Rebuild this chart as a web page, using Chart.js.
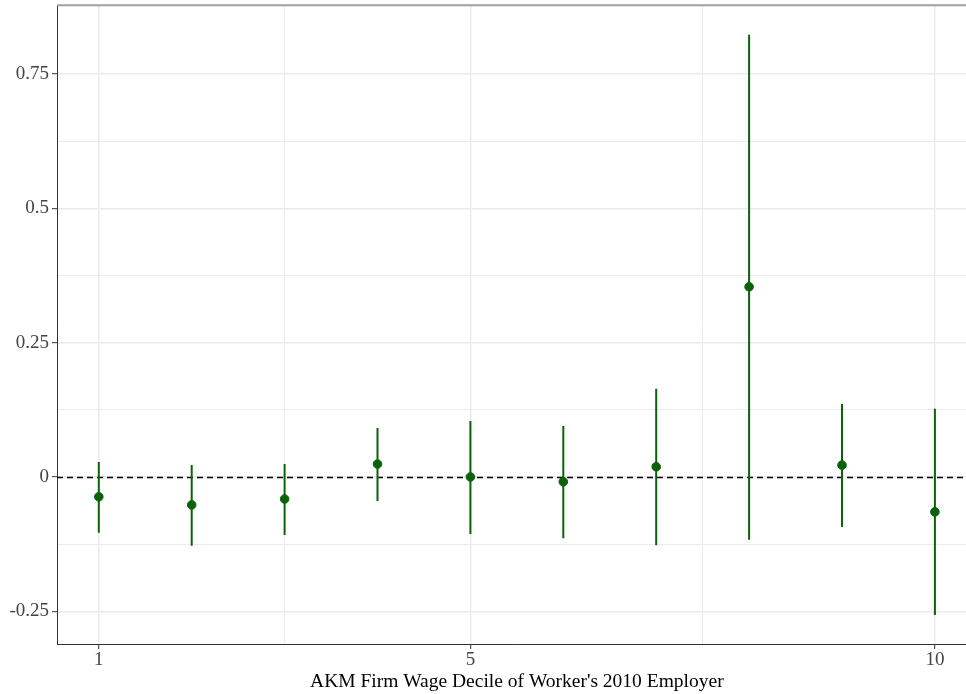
<!DOCTYPE html>
<html>
<head>
<meta charset="utf-8">
<script src="https://cdn.jsdelivr.net/npm/chart.js@4/dist/chart.umd.min.js"></script>
<style>
  html, body { margin: 0; padding: 0; background: #fff; }
  #wrap { width: 966px; height: 694px; overflow: hidden; }
</style>
</head>
<body>
<div id="wrap"><canvas id="coefChart" width="982" height="694"></canvas></div>
<script>
// decile estimates with 95% intervals
const deciles = [1, 2, 3, 4, 5, 6, 7, 8, 9, 10];
const estimate = [-0.037, -0.052, -0.041, 0.024, 0.000, -0.009, 0.019, 0.354, 0.022, -0.065];
const ciLow = [-0.104, -0.128, -0.108, -0.045, -0.106, -0.114, -0.127, -0.117, -0.093, -0.257];
const ciHigh = [0.028, 0.022, 0.024, 0.091, 0.104, 0.095, 0.164, 0.823, 0.136, 0.127];

const xTicks = [1, 3, 5, 7.5, 10];
const xLabels = [1, 5, 10];
const yTicks = [-0.25, -0.125, 0, 0.125, 0.25, 0.375, 0.5, 0.625, 0.75];
const yLabels = [-0.25, 0, 0.25, 0.5, 0.75];

const green = "#0a620a";
const serif = "'Liberation Serif', 'Times New Roman', serif";

const isMajor = (list, v) => list.some((m) => Math.abs(m - v) < 1e-9);

// one vertical segment per decile for the interval
const ciSets = deciles.map((d, i) => ({
  type: "line",
  data: [{ x: d, y: ciLow[i] }, { x: d, y: ciHigh[i] }],
  borderColor: green,
  borderWidth: 2,
  pointRadius: 0,
  fill: false,
  order: 1,
}));

// dashed zero line and top frame
const refLines = {
  id: "refLines",
  beforeDatasetsDraw(chart) {
    const { ctx, chartArea, scales } = chart;
    const y0 = Math.round(scales.y.getPixelForValue(0)) + 0.5;
    ctx.save();
    ctx.strokeStyle = "#000";
    ctx.lineWidth = 1.4;
    ctx.setLineDash([6, 4]);
    ctx.beginPath();
    ctx.moveTo(chartArea.left, y0);
    ctx.lineTo(chartArea.right, y0);
    ctx.stroke();
    ctx.restore();
  },
  afterDraw(chart) {
    const { ctx, chartArea } = chart;
    ctx.save();
    ctx.strokeStyle = "#a0a0a0";
    ctx.lineWidth = 2;
    ctx.beginPath();
    ctx.moveTo(chartArea.left, chartArea.top);
    ctx.lineTo(chartArea.right, chartArea.top);
    ctx.stroke();
    ctx.restore();
  },
};

new Chart(document.getElementById("coefChart"), {
  type: "scatter",
  data: {
    datasets: [
      {
        type: "scatter",
        data: deciles.map((d, i) => ({ x: d, y: estimate[i] })),
        backgroundColor: green,
        borderColor: green,
        pointRadius: 4.3,
        pointHoverRadius: 4.3,
        order: 0,
      },
      ...ciSets,
    ],
  },
  options: {
    responsive: false,
    animation: false,
    layout: { padding: { top: 5, right: 5, left: 0, bottom: 0 } },
    plugins: {
      legend: { display: false },
      tooltip: { enabled: false },
    },
    scales: {
      x: {
        type: "linear",
        min: 0.55,
        max: 10.45,
        afterBuildTicks: (scale) => {
          scale.ticks = xTicks.map((v) => ({ value: v }));
        },
        afterFit: (scale) => {
          scale.height = 50;
          scale.paddingLeft = 0;
          scale.paddingRight = 0;
        },
        ticks: {
          color: "#444",
          font: { family: serif, size: 19 },
          padding: 0,
          maxRotation: 0,
          autoSkip: false,
          callback: (v) => (isMajor(xLabels, v) ? String(v) : ""),
        },
        grid: {
          color: "#ebebeb",
          lineWidth: (c) => (c.tick && isMajor(xLabels, c.tick.value) ? 1.4 : 1),
          tickLength: 5,
          tickColor: (c) => (c.tick && isMajor(xLabels, c.tick.value) ? "#333" : "rgba(0,0,0,0)"),
          tickWidth: 1,
        },
        border: { display: true, color: "#333", width: 1 },
        title: {
          display: true,
          text: "AKM Firm Wage Decile of Worker's 2010 Employer",
          color: "#000",
          font: { family: serif, size: 19.5 },
          padding: { top: 0, bottom: 0 },
        },
      },
      y: {
        type: "linear",
        min: -0.311,
        max: 0.878,
        afterBuildTicks: (scale) => {
          scale.ticks = yTicks.map((v) => ({ value: v }));
        },
        afterFit: (scale) => {
          scale.width = 57;
          scale.paddingTop = 0;
          scale.paddingBottom = 0;
        },
        ticks: {
          color: "#444",
          font: { family: serif, size: 19 },
          padding: 3,
          autoSkip: false,
          callback: (v) => (isMajor(yLabels, v) ? String(v) : ""),
        },
        grid: {
          color: "#ebebeb",
          lineWidth: (c) => (c.tick && isMajor(yLabels, c.tick.value) ? 1.4 : 1),
          tickLength: 5,
          tickColor: (c) => (c.tick && isMajor(yLabels, c.tick.value) ? "#333" : "rgba(0,0,0,0)"),
          tickWidth: 1,
        },
        border: { display: true, color: "#333", width: 1 },
      },
    },
  },
  plugins: [refLines],
});
</script>
</body>
</html>
